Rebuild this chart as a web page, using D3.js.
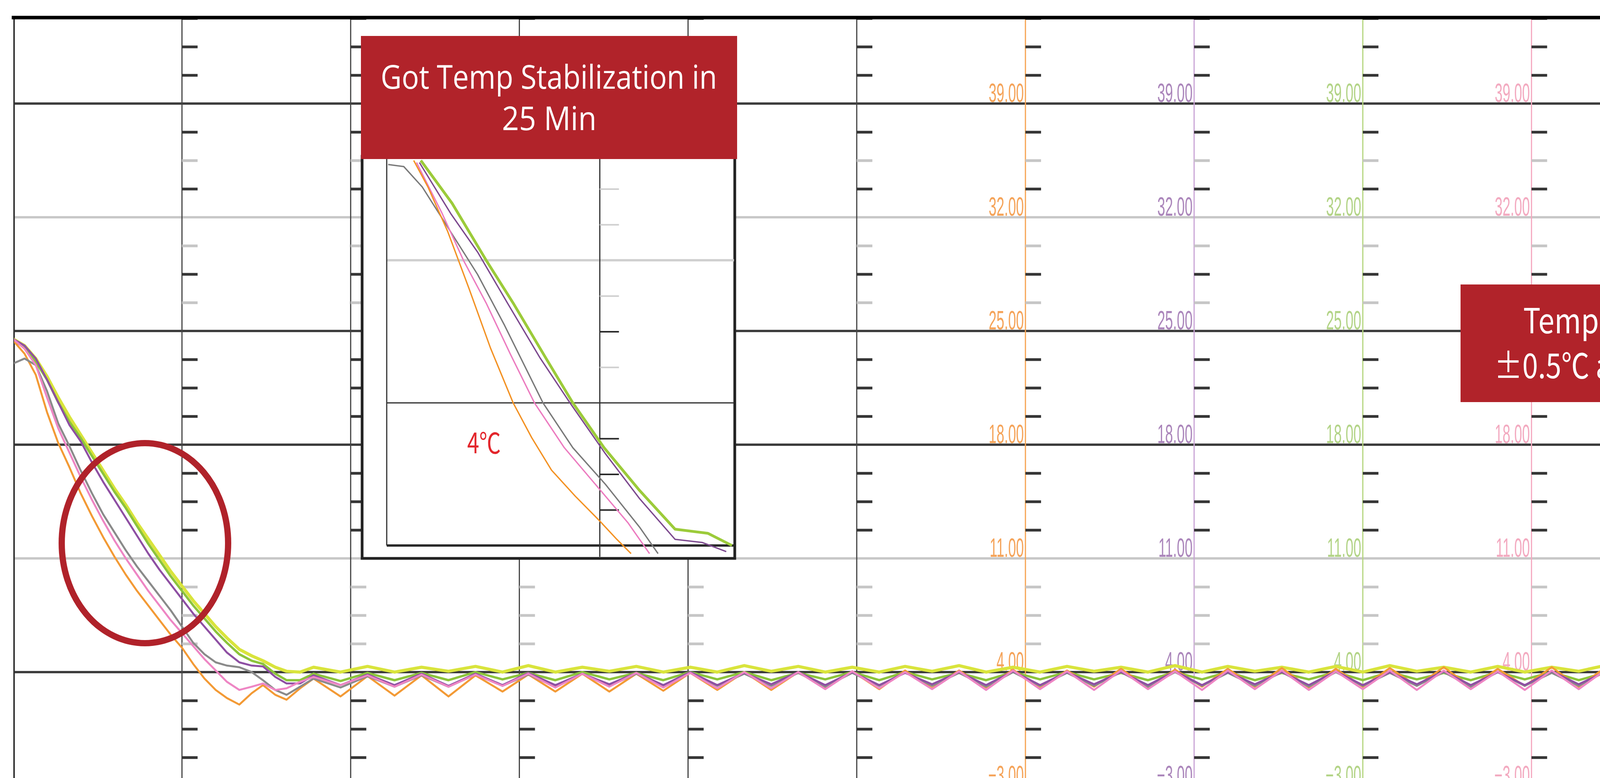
<!DOCTYPE html>
<html>
<head>
<meta charset="utf-8">
<script src="https://cdn.jsdelivr.net/npm/d3@7"></script>
<style>
  html, body { margin: 0; padding: 0; background: #fff; overflow: hidden; }
  svg { display: block; }
</style>
</head>
<body>
<div id="main"></div>
<script>
// ---- data (minutes, deg C) ----
const minutes = [
  0, 1, 2, 3, 4, 5, 6, 7, 8, 9, 10, 11, 12, 13, 14, 15, 16, 17, 18, 19, 20.1, 21.2, 22.2, 23.3, 24.3, 25.5,
  26.7, 29.1, 31.5, 33.9, 36.3, 38.7, 41.1, 43.5, 45.8, 48.2, 50.6, 53.0, 55.4, 57.8, 60.2, 62.6,
  65.0, 67.4, 69.8, 72.2, 74.6, 77.0, 79.3, 81.7, 84.1, 86.5, 88.9, 91.3, 93.7, 96.1, 98.5, 100.9,
  103.3, 105.7, 108.0, 110.4, 112.8, 115.2, 117.6, 120.0, 122.4, 124.8, 127.2, 129.6, 132.0, 134.4,
  136.8, 139.2, 141.5, 143.9, 146.3, 148.7, 151.1, 153.5, 155.9, 158.3, 160.7, 163.1, 165.5, 167.9,
  170.3, 172.7, 175.0, 177.4, 179.8
];

const ch1Orange = [
  24.4, 23.6, 22.3, 20.0, 18.1, 16.6, 15.0, 13.6, 12.3, 11.1, 10.0, 9.0, 8.1, 7.2, 6.3, 5.5, 4.5, 3.6, 2.9, 2.4, 2.0, 2.7, 3.2, 2.6, 2.3, 3.0,
  3.6, 2.5, 3.75, 2.55, 3.8, 2.5, 3.8, 2.8, 3.85, 2.8, 3.9, 2.8, 3.9, 2.85, 3.95, 2.9,
  4.0, 2.9, 4.0, 3.0, 4.05, 2.95, 4.1, 3.0, 4.1, 3.05, 4.15, 3.0, 4.1, 3.1, 4.2, 3.05,
  4.15, 3.1, 4.2, 3.1, 4.25, 3.05, 4.2, 3.1, 4.25, 3.15, 4.3, 3.1, 4.2, 3.15,
  4.3, 3.1, 4.25, 3.15, 4.3, 3.2, 4.25, 3.1, 4.3, 3.15, 4.3, 3.2,
  4.25, 3.15, 4.3, 3.2, 4.3, 3.15, 4.25
];
const ch2Pink = [
  24.5, 23.9, 22.9, 20.9, 19.0, 17.5, 16.0, 14.6, 13.3, 12.1, 11.0, 10.0, 9.0, 8.1, 7.2, 6.4, 5.6, 4.8, 4.1, 3.4, 2.9, 3.1, 3.3, 2.9, 3.0, 3.4,
  3.7, 3.2, 3.8, 3.1, 3.85, 3.1, 3.85, 3.15, 3.9, 3.05, 3.9, 3.1, 3.95, 3.05, 3.95, 3.0,
  4.0, 3.0, 4.0, 2.95, 4.05, 3.0, 4.0, 2.95, 4.05, 2.9, 4.1, 2.95, 4.05, 2.9, 4.1, 2.95,
  4.05, 2.9, 4.1, 2.95, 4.1, 2.9, 4.05, 2.95, 4.1, 2.9, 4.1, 2.95, 4.05, 2.9,
  4.1, 2.95, 4.1, 2.9, 4.05, 2.95, 4.1, 2.9, 4.1, 2.95, 4.05, 2.9,
  4.1, 2.95, 4.1, 2.9, 4.05, 2.95, 4.1
];
const ch3Gray = [
  23.0, 23.3, 22.9, 21.3, 19.3, 17.9, 16.4, 15.0, 13.7, 12.6, 11.5, 10.5, 9.6, 8.7, 7.8, 6.8, 5.8, 5.1, 4.6, 4.4, 4.3, 4.0, 3.5, 2.9, 2.6, 3.1,
  3.6, 3.05, 3.75, 3.1, 3.8, 3.1, 3.85, 3.15, 3.85, 3.1, 3.9, 3.15, 3.9, 3.1, 3.95, 3.15,
  3.9, 3.15, 3.95, 3.1, 3.95, 3.15, 4.0, 3.15, 3.95, 3.1, 4.0, 3.15, 3.95, 3.15, 4.0, 3.1,
  4.0, 3.15, 3.95, 3.15, 4.0, 3.1, 4.0, 3.15, 3.95, 3.15, 4.0, 3.1, 4.0, 3.15,
  3.95, 3.15, 4.0, 3.1, 4.0, 3.15, 3.95, 3.15, 4.0, 3.1, 4.0, 3.15,
  3.95, 3.15, 4.0, 3.1, 4.0, 3.15, 3.95
];
const ch4Purple = [
  24.5, 24.1, 23.3, 22.0, 20.6, 19.2, 18.2, 16.9, 15.7, 14.6, 13.5, 12.4, 11.3, 10.3, 9.4, 8.5, 7.6, 6.8, 6.0, 5.2, 4.6, 4.4, 4.35, 3.7, 3.3, 3.3,
  3.8, 3.2, 3.85, 3.2, 3.9, 3.15, 3.9, 3.2, 3.95, 3.2, 3.9, 3.25, 3.95, 3.2, 4.0, 3.2,
  3.95, 3.25, 4.0, 3.2, 4.0, 3.2, 3.95, 3.25, 4.0, 3.2, 4.05, 3.2, 4.0, 3.25, 4.0, 3.2,
  4.05, 3.2, 4.0, 3.25, 4.0, 3.2, 4.05, 3.2, 4.0, 3.25, 4.05, 3.2, 4.0, 3.2,
  4.05, 3.25, 4.0, 3.2, 4.05, 3.2, 4.0, 3.25, 4.05, 3.2, 4.0, 3.2,
  4.05, 3.25, 4.0, 3.2, 4.05, 3.2, 4.0
];
const ch5Green = [
  24.4, 24.0, 23.1, 22.0, 20.6, 19.4, 18.4, 17.3, 16.2, 15.1, 14.1, 13.0, 11.9, 10.9, 9.9, 9.0, 8.1, 7.3, 6.5, 5.8, 5.1, 4.7, 4.5, 3.9, 3.5, 3.5,
  3.9, 3.45, 3.95, 3.5, 3.95, 3.5, 4.0, 3.55, 3.95, 3.5, 4.0, 3.55, 3.95, 3.5, 4.0, 3.55,
  4.0, 3.5, 3.95, 3.55, 4.0, 3.5, 4.0, 3.55, 3.95, 3.5, 4.0, 3.55, 4.0, 3.55, 3.95, 3.5,
  4.0, 3.55, 4.0, 3.5, 3.95, 3.55, 4.0, 3.5, 4.0, 3.55, 3.95, 3.5, 4.0, 3.55,
  4.0, 3.5, 3.95, 3.55, 4.0, 3.5, 4.0, 3.55, 3.95, 3.5, 4.0, 3.55,
  4.0, 3.5, 3.95, 3.55, 4.0, 3.5, 4.0
];
const ch6Yellow = [
  24.5, 24.1, 23.3, 22.2, 20.9, 19.7, 18.6, 17.5, 16.4, 15.3, 14.3, 13.2, 12.2, 11.2, 10.2, 9.3, 8.4, 7.6, 6.8, 6.1, 5.4, 5.0, 4.7, 4.3, 4.05, 4.0,
  4.3, 4.0, 4.35, 4.0, 4.3, 4.05, 4.35, 4.0, 4.4, 4.0, 4.3, 4.05, 4.35, 4.0, 4.3, 4.0,
  4.4, 4.05, 4.35, 4.0, 4.3, 4.0, 4.35, 4.05, 4.4, 4.0, 4.3, 4.0, 4.35, 4.05, 4.3, 4.0,
  4.4, 4.0, 4.35, 4.05, 4.3, 4.0, 4.35, 4.0, 4.4, 4.05, 4.3, 4.0, 4.35, 4.0,
  4.3, 4.05, 4.4, 4.0, 4.35, 4.0, 4.3, 4.05, 4.35, 4.0, 4.4, 4.0,
  4.3, 4.05, 4.35, 4.0, 4.3, 4.0, 4.35
];

// inset (zoomed view of the pull-down), [minute, deg C]
const insetOrange = [[1.9, 36.9], [2.9, 35.6], [4.3, 33.4], [5.8, 30.6], [7.3, 27.7], [8.9, 25.0], [10.2, 23.3], [11.6, 21.7], [13.3, 20.4], [15.0, 19.2], [16.2, 18.3], [17.2, 17.6]];
const insetPink = [[2.1, 36.8], [3.9, 34.3], [5.4, 32.0], [7.0, 29.9], [8.7, 27.4], [10.4, 25.0], [12.5, 22.8], [15.3, 20.5], [17.0, 19.1], [18.5, 17.6]];
const insetGray = [[0.1, 36.7], [1.2, 36.6], [2.5, 35.6], [4.5, 33.4], [6.4, 31.3], [8.3, 28.8], [11.0, 25.0], [13.1, 22.8], [15.4, 21.0], [17.8, 18.9], [19.1, 17.6]];
const insetPurple = [[2.3, 36.8], [4.5, 34.3], [6.4, 32.4], [8.5, 29.9], [10.8, 27.2], [12.9, 25.0], [15.4, 22.5], [17.8, 20.3], [20.3, 18.3], [22.2, 18.15], [23.9, 17.7]];
const insetGreen = [[2.4, 36.9], [4.6, 34.8], [7.0, 32.0], [8.9, 29.9], [11.2, 27.2], [13.1, 25.0], [15.3, 22.8], [17.8, 20.7], [20.3, 18.8], [22.6, 18.6], [24.3, 18.0]];

// axis values
const majorTicks = [39, 32, 25, 18, 11, 4, -3];
const minorTicks = [44.25, 42.5, 40.75, 37.25, 35.5, 33.75, 30.25, 28.5, 26.75, 23.25, 21.5, 19.75, 16.25, 14.5, 12.75, 9.25, 7.5, 5.75, 2.25, 0.5, -1.25];
const gridMinutes = [15, 30, 45, 60, 75];
const channelMinutes = [90, 105, 120, 135, 150, 165];
const insetGridValues = [32, 25, 18];
const insetMinorTicks = [35.5, 33.75, 30.25, 28.5, 26.75, 23.25, 21.5, 19.75];

// ---- styles ----
const W = 5158, H = 1991;
const lightGrid = [32, 11];
const faintTicks = [35.5, 30.25, 26.75, 9.25, 7.5, 5.75];
const insetFaintTicks = [35.5, 33.75, 30.25, 26.75];
const channelLine = ["#f6a351", "#c9a3d6", "#b4d67e", "#f5a9c0", "#e2e35a", "#c4c4c4"];
const channelLabel = ["#f5a45a", "#ab86bb", "#b3d487", "#f3aac0", "#d8d850", "#aaaaaa"];
const red = "#b1232a";
const box2Rect = { x: 3739, y: 728, w: 1230, h: 301 };

const svg = d3.select("#main").append("svg").attr("width", W).attr("height", H);
svg.append("rect").attr("width", W).attr("height", H).attr("fill", "#fff");

const x = d3.scaleLinear().domain([0, 180]).range([34, 34 + 180 * 28.79]);
const y = d3.scaleLinear().domain([-2.52, 44.29]).range([H, 45]);

const defs = svg.append("defs");
defs.append("clipPath").attr("id", "plot-clip")
  .append("rect").attr("x", 36).attr("y", 45).attr("width", W - 36).attr("height", H - 45);

// horizontal grid
svg.append("g").selectAll("line").data(majorTicks).join("line")
  .attr("x1", 36).attr("x2", W)
  .attr("y1", d => y(d)).attr("y2", d => y(d))
  .attr("stroke", d => lightGrid.includes(d) ? "#c8c8c8" : "#3d3d3d")
  .attr("stroke-width", 6);

// vertical grid (time divisions)
svg.append("g").selectAll("line").data(gridMinutes).join("line")
  .attr("x1", d => x(d)).attr("x2", d => x(d))
  .attr("y1", 45).attr("y2", H)
  .attr("stroke", "#444").attr("stroke-width", 3);

// channel scale lines
svg.append("g").selectAll("line").data(channelMinutes).join("line")
  .attr("x1", d => x(d)).attr("x2", d => x(d))
  .attr("y1", 45).attr("y2", H)
  .attr("stroke", (d, i) => channelLine[i]).attr("stroke-width", 3);

// minor tick marks on every division line
[...gridMinutes, ...channelMinutes].forEach(m => {
  const g = svg.append("g").attr("transform", `translate(${x(m)},0)`)
    .call(d3.axisRight(y).tickValues(minorTicks).tickSize(40).tickFormat(""));
  g.select(".domain").remove();
  g.selectAll(".tick line")
    .attr("stroke", d => faintTicks.includes(d) ? "#c6c6c6" : "#353535")
    .attr("stroke-width", 7);
});

// channel scale labels (those lying under the second callout are hidden by it)
const underBox2 = (m, v) => x(m) > box2Rect.x && x(m) < box2Rect.x + box2Rect.w
  && y(v) > box2Rect.y && y(v) - 50 < box2Rect.y + box2Rect.h;
channelMinutes.forEach((m, i) => {
  const g = svg.append("g").attr("transform", `translate(${x(m)},0)`)
    .call(d3.axisLeft(y).tickValues(majorTicks.filter(v => !underBox2(m, v)))
      .tickSize(0).tickPadding(0).tickFormat(d3.format(".2f")));
  g.select(".domain").remove();
  g.selectAll(".tick text")
    .attr("x", null).attr("dy", null)
    .attr("transform", "translate(-4,-4) scale(0.53,1)")
    .attr("fill", channelLabel[i])
    .style("font-family", "'Liberation Sans', Arial, sans-serif")
    .style("font-size", "68px");
});

// frame
svg.append("line").attr("x1", 36).attr("x2", 36).attr("y1", 45).attr("y2", H)
  .attr("stroke", "#333").attr("stroke-width", 4);
svg.append("line").attr("x1", 30).attr("x2", W).attr("y1", 45).attr("y2", 45)
  .attr("stroke", "#000").attr("stroke-width", 9);

// temperature traces
const series = [
  { values: ch6Yellow, color: "#d9e43c", width: 8 },
  { values: ch5Green, color: "#8cc43c", width: 6 },
  { values: ch1Orange, color: "#f39a35", width: 5 },
  { values: ch3Gray, color: "#8a8a8a", width: 5 },
  { values: ch4Purple, color: "#8e4fa3", width: 5 },
  { values: ch2Pink, color: "#ee86c4", width: 5 }
];
const trace = d3.line().x((d, i) => x(minutes[i])).y(d => y(d));
const traces = svg.append("g").attr("clip-path", "url(#plot-clip)");
series.forEach(s => {
  traces.append("path").datum(s.values)
    .attr("d", trace)
    .attr("fill", "none")
    .attr("stroke", s.color)
    .attr("stroke-width", s.width)
    .attr("stroke-linejoin", "round");
});

// highlight ellipse
svg.append("ellipse")
  .attr("cx", 371).attr("cy", 1390).attr("rx", 213).attr("ry", 256)
  .attr("fill", "none").attr("stroke", "#b0222a").attr("stroke-width", 16);

// ---- inset ----
const xi = d3.scaleLinear().domain([0, 24.5]).range([990, 1881]);
const yi = d3.scaleLinear().domain([18, 36.9]).range([1396, 410.6]);
const inset = svg.append("g");
inset.append("rect").attr("x", 927).attr("y", 400).attr("width", 1881 - 927).attr("height", 1429 - 400)
  .attr("fill", "#fff").attr("stroke", "#222").attr("stroke-width", 7);
defs.append("clipPath").attr("id", "inset-clip")
  .append("rect").attr("x", 990).attr("y", 407).attr("width", 1881 - 990).attr("height", 1425 - 407);

inset.append("g").selectAll("line").data(insetGridValues).join("line")
  .attr("x1", 990).attr("x2", 1879)
  .attr("y1", d => yi(d)).attr("y2", d => yi(d))
  .attr("stroke", d => d === 32 ? "#d0d0d0" : "#2a2a2a")
  .attr("stroke-width", d => d === 18 ? 6 : (d === 32 ? 6 : 3));
inset.append("line").attr("x1", xi(0)).attr("x2", xi(0)).attr("y1", 407).attr("y2", yi(18))
  .attr("stroke", "#333").attr("stroke-width", 3);
inset.append("line").attr("x1", xi(15)).attr("x2", xi(15)).attr("y1", 407).attr("y2", 1425)
  .attr("stroke", "#333").attr("stroke-width", 3);
const ig = inset.append("g").attr("transform", `translate(${xi(15)},0)`)
  .call(d3.axisRight(yi).tickValues(insetMinorTicks).tickSize(49).tickFormat(""));
ig.select(".domain").remove();
ig.selectAll(".tick line")
  .attr("stroke", d => insetFaintTicks.includes(d) ? "#cfcfcf" : "#2a2a2a")
  .attr("stroke-width", 4);

const insetSeries = [
  { values: insetGreen, color: "#9ccb3a", width: 7 },
  { values: insetPurple, color: "#7d4a8f", width: 3.5 },
  { values: insetGray, color: "#7a7a7a", width: 3.5 },
  { values: insetPink, color: "#ec7cc0", width: 3.5 },
  { values: insetOrange, color: "#f39224", width: 3.5 }
];
const insetLine = d3.line().x(d => xi(d[0])).y(d => yi(d[1]));
const insetTraces = inset.append("g").attr("clip-path", "url(#inset-clip)");
insetSeries.forEach(s => {
  insetTraces.append("path").datum(s.values)
    .attr("d", insetLine)
    .attr("fill", "none")
    .attr("stroke", s.color)
    .attr("stroke-width", s.width)
    .attr("stroke-linejoin", "round");
});

inset.append("text")
  .attr("x", 1239).attr("y", 1160)
  .attr("text-anchor", "middle")
  .attr("fill", "#e3262c")
  .style("font-family", "'Noto Sans CJK KR', 'Noto Sans', sans-serif")
  .style("font-size", "72px")
  .attr("textLength", 86).attr("lengthAdjust", "spacingAndGlyphs")
  .text("4℃");

// ---- callout boxes ----
const box1 = svg.append("g");
box1.append("rect").attr("x", 924).attr("y", 92).attr("width", 963).attr("height", 315).attr("fill", red);
box1.append("text").attr("x", 1405).attr("y", 227).attr("text-anchor", "middle")
  .attr("fill", "#fff").style("font-family", "'Open Sans', 'Noto Sans', sans-serif").style("font-size", "85px")
  .attr("textLength", 861).attr("lengthAdjust", "spacingAndGlyphs")
  .text("Got Temp Stabilization in");
box1.append("text").attr("x", 1406).attr("y", 333).attr("text-anchor", "middle")
  .attr("fill", "#fff").style("font-family", "'Open Sans', 'Noto Sans', sans-serif").style("font-size", "85px")
  .attr("textLength", 242).attr("lengthAdjust", "spacingAndGlyphs")
  .text("25 Min");

const box2 = svg.append("g");
box2.append("rect").attr("x", box2Rect.x).attr("y", box2Rect.y).attr("width", box2Rect.w).attr("height", box2Rect.h).attr("fill", red);
box2.append("text").attr("x", 4355).attr("y", 853).attr("text-anchor", "middle")
  .attr("fill", "#fff").style("font-family", "'Noto Sans CJK KR', 'Noto Sans', sans-serif").style("font-size", "88px")
  .attr("textLength", 911).attr("lengthAdjust", "spacingAndGlyphs")
  .text("Temp fluctuation less than");
box2.append("text").attr("x", 4351).attr("y", 968).attr("text-anchor", "middle")
  .attr("fill", "#fff").style("font-family", "'Noto Sans CJK KR', 'Noto Sans', sans-serif").style("font-size", "88px")
  .attr("textLength", 1051).attr("lengthAdjust", "spacingAndGlyphs")
  .text("±0.5℃ at Operation Temp 38℃");
</script>
</body>
</html>
